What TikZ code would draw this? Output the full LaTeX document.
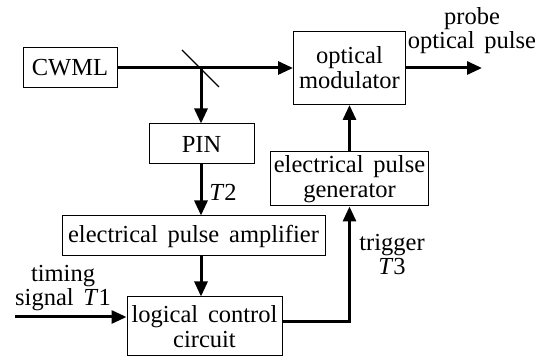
\documentclass[tikz,border=0pt]{standalone}
\usepackage{fontspec}
\setmainfont{Liberation Serif}
\newfontfamily\myserif[WordSpace=1.6]{Liberation Serif}
\usetikzlibrary{arrows.meta}
\begin{document}
\begin{tikzpicture}[x=1pt,y=-1pt,
  box/.style={draw,line width=1pt,inner sep=0pt,align=center,font=\myserif\fontsize{24.5}{25}\selectfont},
  lbl/.style={inner sep=0pt,align=center,font=\myserif\fontsize{24.5}{24}\selectfont},
  arr/.style={line width=3pt,-{Triangle[length=15pt,width=13pt]}}]
\useasboundingbox (0,0) rectangle (550,358);
\node[box,minimum width=94pt,minimum height=40pt] (cwml) at (70,68) {CWML};
\node[box,minimum width=105pt,minimum height=40pt] (pin) at (201.5,144) {PIN};
\node[box,minimum width=263pt,minimum height=40pt] (amp) at (193.5,236) {electrical pulse amplifier};
\node[box,minimum width=155pt,minimum height=59pt] (logic) at (204.5,326.5) {logical control\\circuit};
\node[box,minimum width=112pt,minimum height=73pt] (mod) at (349.5,68) {optical\\modulator};
\node[box,minimum width=158pt,minimum height=54pt] (gen) at (349.5,179) {electrical pulse\\generator};
\coordinate (mir) at (201,68);
\coordinate (mirA) at (182,50);
\coordinate (mirB) at (219,87);
\coordinate (out) at (482,68);
\coordinate (t1) at (15,317);
\coordinate (trig) at (349.5,322);
\draw[line width=1.2pt] (mirA) -- (mirB);
\draw[arr] (cwml.east) -- (mod.west);
\draw[arr] (mir) -- (mir |- pin.north);
\draw[arr] (pin.south -| mir) -- (mir |- amp.north);
\draw[arr] (amp.south -| mir) -- (mir |- logic.north);
\draw[arr] (mod.east) -- (out);
\draw[arr] (t1) -- (logic.west |- t1);
\draw[arr] (logic.east |- trig) -- (trig) -- (gen.south);
\draw[arr] (gen.north) -- (mod.south);
\node[lbl] (probe) at (472,31) {probe\\optical pulse};
\node[lbl] (t2) at (223,192) {\textit{T}2};
\node[lbl] (trg) at (392,255) {trigger\\\textit{T}3};
\node[lbl] (tim) at (63,288) {timing\\signal \textit{T}1};
\end{tikzpicture}
\end{document}
